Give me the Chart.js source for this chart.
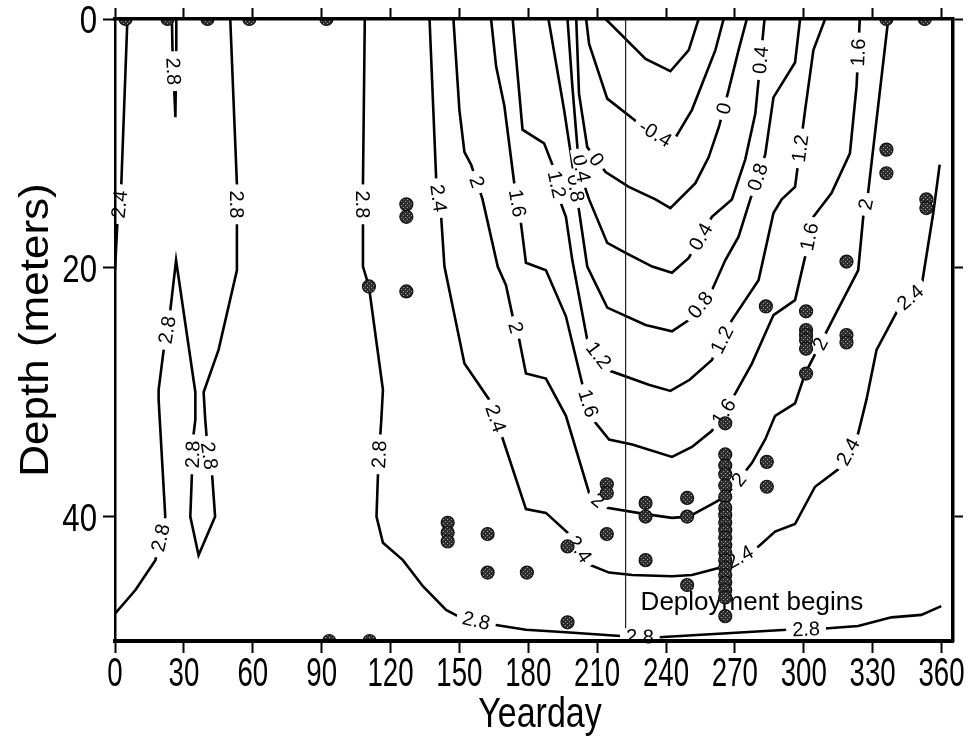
<!DOCTYPE html>
<html>
<head>
<meta charset="utf-8">
<title>Temperature contours by yearday and depth</title>
<script src="https://cdn.jsdelivr.net/npm/chart.js@4.4.1/dist/chart.umd.min.js"></script>
<style>
  html, body { margin: 0; padding: 0; background: #fff; }
  canvas { display: block; }
</style>
</head>
<body>
<canvas id="contourChart" width="974" height="744"></canvas>
<script>
// axis ticks
const dayTicks = [0, 30, 60, 90, 120, 150, 180, 210, 240, 270, 300, 330, 360];
const depthTicks = [0, 20, 40];
const deploymentDay = 222.4;

// contour lines, [yearday, depth] pairs
const west24 = [[5.4, 0], [2.7, 13.5], [1.0, 16.5], [0, 20.2]];
const westTip28 = [[24.8, 0], [25.0, 2.2], [26.3, 7.9], [26.7, 2.2], [26.7, 0]];
const west28 = [[0, 47.8], [8.9, 45.9], [17.6, 43.5], [21.9, 40.0], [19.0, 30.6], [19.0, 29.8], [21.2, 26.6],
  [24.1, 23.4], [26.6, 19.4], [35.0, 30.0], [35.0, 32.2], [34.2, 33.4], [33.5, 36.6], [32.8, 40.0], [36.4, 43.1],
  [43.6, 40.0], [42.2, 36.4], [40.0, 33.8], [39.3, 32.2], [38.6, 30.0], [45.1, 26.6], [53.1, 20.2], [53.1, 16.5],
  [53.1, 13.3], [50.2, 0]];
const mid28 = [[108.8, 0], [108.0, 13.3], [108.0, 16.5], [108.0, 19.9], [110.6, 21.5], [116.7, 29.8], [116.0, 32.2],
  [115.6, 33.3], [114.5, 36.8], [113.9, 40.0], [116.7, 42.1], [125.4, 43.5], [134.1, 45.6], [144.2, 47.5],
  [149.3, 48.0], [165.2, 48.7], [179.0, 49.1], [196.4, 49.3], [220.2, 49.6], [236.9, 49.7], [292.6, 49.1],
  [309.2, 49.0], [323.7, 48.8], [338.2, 48.1], [351.2, 47.9], [359.9, 47.2]];
const line24 = [[137.0, 0], [139.9, 12.9], [142.1, 16.0], [143.5, 19.9], [152.2, 27.7], [163.0, 30.6], [168.8, 33.7],
  [179.0, 39.4], [187.7, 39.7], [197.8, 41.4], [207.2, 43.9], [215.2, 44.5], [225.3, 44.7], [242.6, 44.8],
  [251.3, 44.7], [263.7, 44.1], [280.3, 42.4], [287.5, 41.2], [296.2, 40.6], [304.9, 37.6], [315.0, 36.2],
  [323.7, 33.3], [327.3, 30.6], [331.7, 26.6], [341.8, 23.1], [351.2, 21.6], [356.4, 15.6], [359.2, 11.7]];
const line20 = [[147.4, 0], [150.0, 7.3], [152.2, 10.7], [155.1, 11.7], [160.1, 14.5], [166.7, 19.9], [170.3, 21.4],
  [173.2, 23.9], [176.1, 25.8], [179.0, 28.5], [187.7, 28.9], [196.4, 31.9], [206.5, 38.1], [214.4, 39.3],
  [231.1, 39.8], [242.6, 40.1], [249.9, 40.0], [260.0, 39.0], [265.8, 38.4], [277.4, 35.7], [283.2, 33.8],
  [287.5, 31.9], [296.2, 30.9], [300.6, 28.5], [313.6, 23.8], [323.7, 20.2], [325.9, 15.9], [328.0, 14.0], [336.8, 0]];
const line16 = [[163.8, 0], [166.0, 3.8], [169.6, 7.0], [173.9, 13.2], [176.8, 16.4], [179.0, 19.6], [187.7, 20.2],
  [196.4, 23.9], [203.6, 29.4], [208.6, 32.3], [215.2, 33.8], [225.3, 34.2], [242.6, 35.2], [251.3, 34.4],
  [260.0, 33.1], [270.2, 30.1], [277.4, 27.7], [286.8, 23.8], [296.2, 22.6], [300.6, 19.1], [304.2, 15.9],
  [312.1, 14.0], [320.1, 10.8], [323.0, 5.4], [324.4, 0]];
const line12 = [[173.2, 0], [177.5, 8.9], [186.9, 10.0], [190.5, 11.7], [194.2, 14.8], [196.4, 15.9], [199.2, 19.4],
  [205.7, 25.8], [215.9, 28.3], [232.5, 29.4], [241.9, 29.9], [250.3, 29.0], [260.0, 27.4], [268.7, 24.2],
  [280.3, 21.0], [283.2, 18.6], [286.8, 15.6], [290.4, 14.5], [296.2, 13.5], [300.6, 7.3], [304.2, 2.5], [309.3, 0]];
const line08 = [[188.8, 0], [195.6, 7.3], [198.5, 10.8], [202.9, 16.4], [205.7, 19.9], [214.4, 23.2], [231.1, 24.6],
  [242.6, 25.1], [249.9, 24.2], [260.0, 21.8], [265.8, 19.4], [271.6, 17.5], [276.7, 14.5], [283.2, 10.9],
  [286.8, 6.3], [296.2, 3.5], [298.4, 0]];
const line04 = [[197.1, 0], [199.2, 5.4], [201.4, 10.3], [205.0, 13.7], [206.5, 14.5], [214.4, 18.0], [222.4, 18.8],
  [234.0, 19.9], [242.6, 20.4], [249.9, 19.2], [260.0, 15.9], [268.7, 14.5], [274.5, 11.3], [278.9, 7.6], [282.9, 0]];
const line00 = [[200.9, 0], [202.1, 6.0], [205.7, 10.3], [213.7, 12.3], [223.8, 13.5], [235.4, 14.5], [241.9, 15.2],
  [252.8, 13.2], [258.6, 11.1], [263.0, 8.7], [267.3, 5.7], [271.6, 2.5], [275.2, 0]];
const lineM04 = [[205.2, 0], [206.5, 2.0], [214.4, 6.4], [228.2, 8.4], [242.6, 10.0], [251.3, 7.3], [261.5, 2.5], [265.1, 0]];
const lineM08 = [[213.7, 0], [231.1, 3.2], [241.9, 4.2], [249.9, 2.5], [254.2, 0]];

// where the inline labels sit, [yearday, depth]
const west24Labels = [[2.4, 14.9]];
const westTip28Labels = [[25.7, 4.2]];
const west28Labels = [[19.8, 41.7], [22.7, 25.0], [33.9, 35.0], [41.2, 35.1], [53.1, 14.9]];
const mid28Labels = [[108.0, 14.9], [115.0, 35.0], [157.3, 48.4], [228.6, 49.65], [301.0, 49.05]];
const line24Labels = [[141.0, 14.4], [165.9, 32.1], [202.5, 42.6], [272.0, 43.2], [319.4, 34.8], [346.5, 22.4]];
const line20Labels = [[157.6, 13.1], [174.6, 24.8], [210.4, 38.7], [271.6, 37.0], [307.1, 26.1], [327.0, 14.9]];
const line16Labels = [[175.3, 14.8], [206.1, 30.9], [265.1, 31.6], [302.4, 17.5], [323.7, 2.7]];
const line12Labels = [[192.4, 13.3], [210.8, 27.0], [264.4, 25.8], [298.4, 10.4]];
const line08Labels = [[200.7, 13.6], [255.0, 23.0], [280.0, 12.7]];
const line04Labels = [[203.2, 12.0], [255.0, 17.5], [281.2, 3.3]];
const line00Labels = [[209.7, 11.3], [265.2, 7.2]];
const lineM04Labels = [[235.4, 9.2]];

// sampling casts
const sampleDays = [4.6, 22.9, 40.3, 58.5, 92.1, 336.0, 352.7, 93.3, 110.9,
  110.6, 126.9, 126.9, 126.9, 144.9, 144.9, 144.9, 162.3, 162.3, 179.4, 197.1, 197.1,
  214.2, 214.2, 214.2, 231.1, 231.1, 231.1, 249.2, 249.2, 249.2,
  265.8, 265.8, 265.8, 265.8, 265.8, 265.8, 265.8, 265.8, 265.8, 265.8,
  265.8, 265.8, 265.8, 265.8, 265.8, 265.8, 265.8, 265.8, 265.8, 265.8,
  283.9, 283.9, 283.5, 301.0, 301.0, 301.0, 301.0, 301.0, 301.0,
  318.6, 318.6, 318.6, 336.0, 336.0, 353.4, 353.4];
const sampleDepths = [0, 0, 0, 0, 0, 0, 0, 50, 50,
  21.5, 14.9, 15.9, 21.9, 40.5, 41.3, 42.0, 41.4, 44.5, 44.5, 42.4, 48.5,
  37.4, 38.1, 41.4, 38.9, 40.0, 43.5, 38.5, 40.0, 45.5,
  32.5, 35.0, 35.9, 36.6, 37.5, 38.4, 39.3, 39.9, 40.5, 41.1,
  41.7, 42.3, 42.9, 43.5, 44.1, 44.7, 45.3, 45.9, 46.5, 48.0,
  35.6, 37.6, 23.1, 23.5, 25.0, 25.4, 25.8, 26.5, 28.5,
  19.5, 25.4, 26.0, 10.5, 12.4, 14.5, 15.2];

const contours = [
  { level: "2.4", points: west24, labels: west24Labels },
  { level: "2.8", points: westTip28, labels: westTip28Labels },
  { level: "2.8", points: west28, labels: west28Labels },
  { level: "2.8", points: mid28, labels: mid28Labels },
  { level: "2.4", points: line24, labels: line24Labels },
  { level: "2", points: line20, labels: line20Labels },
  { level: "1.6", points: line16, labels: line16Labels },
  { level: "1.2", points: line12, labels: line12Labels },
  { level: "0.8", points: line08, labels: line08Labels },
  { level: "0.4", points: line04, labels: line04Labels },
  { level: "0", points: line00, labels: line00Labels },
  { level: "-0.4", points: lineM04, labels: lineM04Labels },
  { level: "-0.8", points: lineM08, labels: [] }
];

const SANS = "'Liberation Sans', Arial, Helvetica, sans-serif";

function speckle() {
  const c = document.createElement("canvas");
  c.width = 4;
  c.height = 4;
  const g = c.getContext("2d");
  g.fillStyle = "#2e2e2e";
  g.fillRect(0, 0, 4, 4);
  g.fillStyle = "#9c9c9c";
  g.fillRect(1, 1, 1, 1);
  g.fillRect(3, 3, 1, 1);
  return g.createPattern(c, "repeat");
}

// condensed text: the original uses a narrow face, so squeeze a regular one
function narrowText(ctx, text, x, y, sx, rot) {
  ctx.save();
  ctx.translate(x, y);
  if (rot) ctx.rotate(rot);
  ctx.scale(sx, 1);
  ctx.fillText(text, 0, 0);
  ctx.restore();
}

// inline contour labels + deployment note, painted just before the casts
const contourLabels = {
  id: "contourLabels",
  beforeDatasetDraw(chart, args) {
    if (args.index !== 0) return;
    const { ctx } = chart;
    const xs = chart.scales.x;
    const ys = chart.scales.y;
    ctx.save();
    ctx.font = "20px " + SANS;
    ctx.textAlign = "center";
    ctx.textBaseline = "middle";
    contours.forEach(c => {
      const px = c.points.map(p => [xs.getPixelForValue(p[0]), ys.getPixelForValue(p[1])]);
      c.labels.forEach(l => {
        const lx = xs.getPixelForValue(l[0]);
        const ly = ys.getPixelForValue(l[1]);
        let best = null;
        for (let i = 0; i < px.length - 1; i++) {
          const [ax, ay] = px[i];
          const [bx, by] = px[i + 1];
          const dx = bx - ax, dy = by - ay;
          const len2 = dx * dx + dy * dy || 1;
          let t = ((lx - ax) * dx + (ly - ay) * dy) / len2;
          t = Math.max(0, Math.min(1, t));
          const qx = ax + t * dx, qy = ay + t * dy;
          const d = (qx - lx) ** 2 + (qy - ly) ** 2;
          if (!best || d < best.d) best = { d, qx, qy, ang: Math.atan2(dy, dx) };
        }
        let a = best.ang;
        if (a > Math.PI / 2) a -= Math.PI;
        if (a <= -Math.PI / 2) a += Math.PI;
        const w = ctx.measureText(c.level).width;
        ctx.save();
        ctx.translate(best.qx, best.qy);
        ctx.rotate(a);
        ctx.fillStyle = "#fff";
        ctx.fillRect(-w / 2 - 6, -8, w + 12, 16);
        ctx.fillStyle = "#000";
        ctx.fillText(c.level, 0, 1);
        ctx.restore();
      });
    });

    ctx.font = "26px " + SANS;
    ctx.textAlign = "left";
    ctx.fillStyle = "#000";
    ctx.fillText("Deployment begins", xs.getPixelForValue(deploymentDay) + 15, ys.getPixelForValue(46.9));
    ctx.restore();
  }
};

// tick labels and axis titles, placed from the chart's own scales
const axisText = {
  id: "axisText",
  afterDraw(chart) {
    const { ctx, chartArea } = chart;
    const xs = chart.scales.x;
    const ys = chart.scales.y;
    ctx.save();
    ctx.fillStyle = "#000";
    ctx.textBaseline = "alphabetic";

    ctx.font = "40px " + SANS;
    ctx.textAlign = "center";
    dayTicks.forEach(v => narrowText(ctx, String(v), xs.getPixelForValue(v), chartArea.bottom + 45, 0.69));

    ctx.font = "39px " + SANS;
    ctx.textAlign = "right";
    depthTicks.forEach(v => narrowText(ctx, String(v), chartArea.left - 18, ys.getPixelForValue(v) + 14, 0.8));

    ctx.font = "42px " + SANS;
    ctx.textAlign = "center";
    narrowText(ctx, "Yearday", (chartArea.left + chartArea.right) / 2 + 6, chartArea.bottom + 86, 0.81);

    ctx.font = "44px " + SANS;
    ctx.save();
    ctx.translate(48, (chartArea.top + chartArea.bottom) / 2);
    ctx.rotate(-Math.PI / 2);
    ctx.scale(1, 0.92);
    ctx.fillText("Depth (meters)", 0, 0);
    ctx.restore();

    ctx.restore();
  }
};

const datasets = [{
  label: "casts",
  data: sampleDays.map((d, i) => ({ x: d, y: sampleDepths[i] })),
  pointRadius: 6.5,
  pointBackgroundColor: speckle(),
  pointBorderColor: "#111",
  pointBorderWidth: 1.2,
  showLine: false,
  clip: 0
}, {
  label: "deployment",
  data: [{ x: deploymentDay, y: 0 }, { x: deploymentDay, y: 50 }],
  showLine: true,
  borderColor: "#222",
  borderWidth: 1.2,
  pointRadius: 0
}];

contours.forEach(c => {
  datasets.push({
    label: c.level,
    data: c.points.map(p => ({ x: p[0], y: p[1] })),
    showLine: true,
    borderColor: "#000",
    borderWidth: 2.6,
    pointRadius: 0,
    tension: 0,
    fill: false
  });
});

function axisGrid(len) {
  return { drawOnChartArea: false, drawTicks: true, tickLength: len, tickWidth: 2, tickColor: "#000", color: "#000" };
}

new Chart(document.getElementById("contourChart"), {
  type: "scatter",
  data: { datasets },
  plugins: [contourLabels, axisText],
  options: {
    responsive: false,
    animation: false,
    layout: { padding: 0 },
    plugins: { legend: { display: false }, tooltip: { enabled: false } },
    scales: {
      x: {
        type: "linear", position: "bottom", min: 0, max: 365,
        border: { display: true, color: "#000", width: 4, z: 1 },
        grid: axisGrid(12),
        afterBuildTicks: s => { s.ticks = dayTicks.map(v => ({ value: v })); },
        afterFit: s => { s.height = 103; s.paddingLeft = 0; s.paddingRight = 0; },
        ticks: { display: false }
      },
      x2: {
        type: "linear", position: "top", min: 0, max: 365,
        border: { display: true, color: "#000", width: 3.5, z: 1 },
        grid: axisGrid(11),
        afterBuildTicks: s => { s.ticks = dayTicks.map(v => ({ value: v })); },
        afterFit: s => { s.height = 19; },
        ticks: { display: false }
      },
      y: {
        type: "linear", position: "left", min: 0, max: 50, reverse: true,
        border: { display: true, color: "#000", width: 2.5, z: 1 },
        grid: axisGrid(12),
        afterBuildTicks: s => { s.ticks = depthTicks.map(v => ({ value: v })); },
        afterFit: s => { s.width = 115; s.paddingTop = 0; s.paddingBottom = 0; },
        ticks: { display: false }
      },
      y2: {
        type: "linear", position: "right", min: 0, max: 50, reverse: true,
        border: { display: true, color: "#000", width: 3.5, z: 1 },
        grid: axisGrid(10),
        afterBuildTicks: s => { s.ticks = depthTicks.map(v => ({ value: v })); },
        afterFit: s => { s.width = 21; },
        ticks: { display: false }
      }
    }
  }
});
</script>
</body>
</html>
